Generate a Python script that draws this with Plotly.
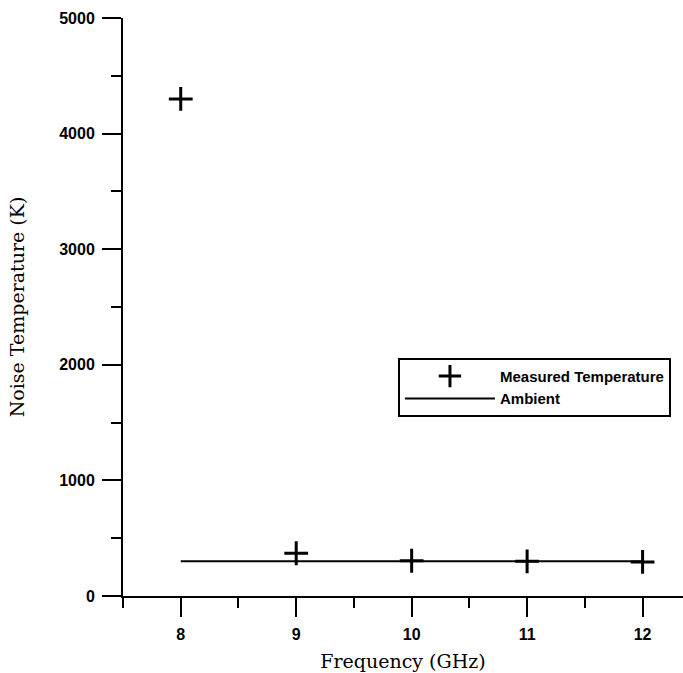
import plotly.graph_objects as go

# Data
freq = [8, 9, 10, 11, 12]                 # GHz
measured = [4300, 370, 305, 300, 295]     # K
ambient_freq = [8, 12]
ambient = [300, 300]

x_ticks = [8, 9, 10, 11, 12]
y_ticks = [0, 1000, 2000, 3000, 4000, 5000]

tick_font = dict(family="Liberation Sans, Arial", size=16, color="black", weight="bold")
title_font = dict(family="DejaVu Serif, Liberation Serif, serif", size=19, color="black")

fig = go.Figure()
fig.add_trace(go.Scatter(
    x=freq, y=measured, mode="markers", name="Measured Temperature",
    marker=dict(symbol="cross-thin", size=17, color="black",
                line=dict(color="black", width=3)),
))
fig.add_trace(go.Scatter(
    x=ambient_freq, y=ambient, mode="lines", name="Ambient",
    line=dict(color="black", width=2),
))

axis_common = dict(
    showgrid=False, zeroline=False, showline=True, linecolor="black", linewidth=2,
    ticks="outside", tickwidth=2, tickcolor="black", ticklen=19,
    tickfont=tick_font, mirror=False, automargin=False,
)

fig.update_layout(
    width=683, height=673,
    margin=dict(l=123, r=0, t=18, b=77),
    paper_bgcolor="white", plot_bgcolor="white",
    xaxis=dict(
        range=[7.5, 12.35], tickvals=x_ticks, ticktext=[str(v) for v in x_ticks],
        minor=dict(ticks="outside", ticklen=10, tickwidth=2, tickcolor="black", dtick=0.5, tick0=7.5),
        title=dict(text="Frequency (GHz)", font=title_font, standoff=12),
        ticklabelstandoff=4,
        **axis_common,
    ),
    yaxis=dict(
        range=[0, 5000], tickvals=y_ticks, ticktext=[str(v) for v in y_ticks],
        minor=dict(ticks="outside", ticklen=10, tickwidth=2, tickcolor="black", dtick=500, tick0=0),
        title=dict(text="Noise Temperature (K)", font=title_font, standoff=30),
        ticklabelstandoff=4,
        **axis_common,
    ),
    legend=dict(
        x=0.491, y=0.412, xanchor="left", yanchor="top",
        bgcolor="white", bordercolor="black", borderwidth=2,
        font=dict(family="Liberation Sans, Arial", size=15, color="black", weight="bold"),
        itemwidth=90, tracegroupgap=0,
    ),
    showlegend=True,
)

fig.write_html(
    "out.html",
    config={"displayModeBar": False},
    post_script="document.body.style.margin='0';document.body.style.overflow='hidden';",
)
